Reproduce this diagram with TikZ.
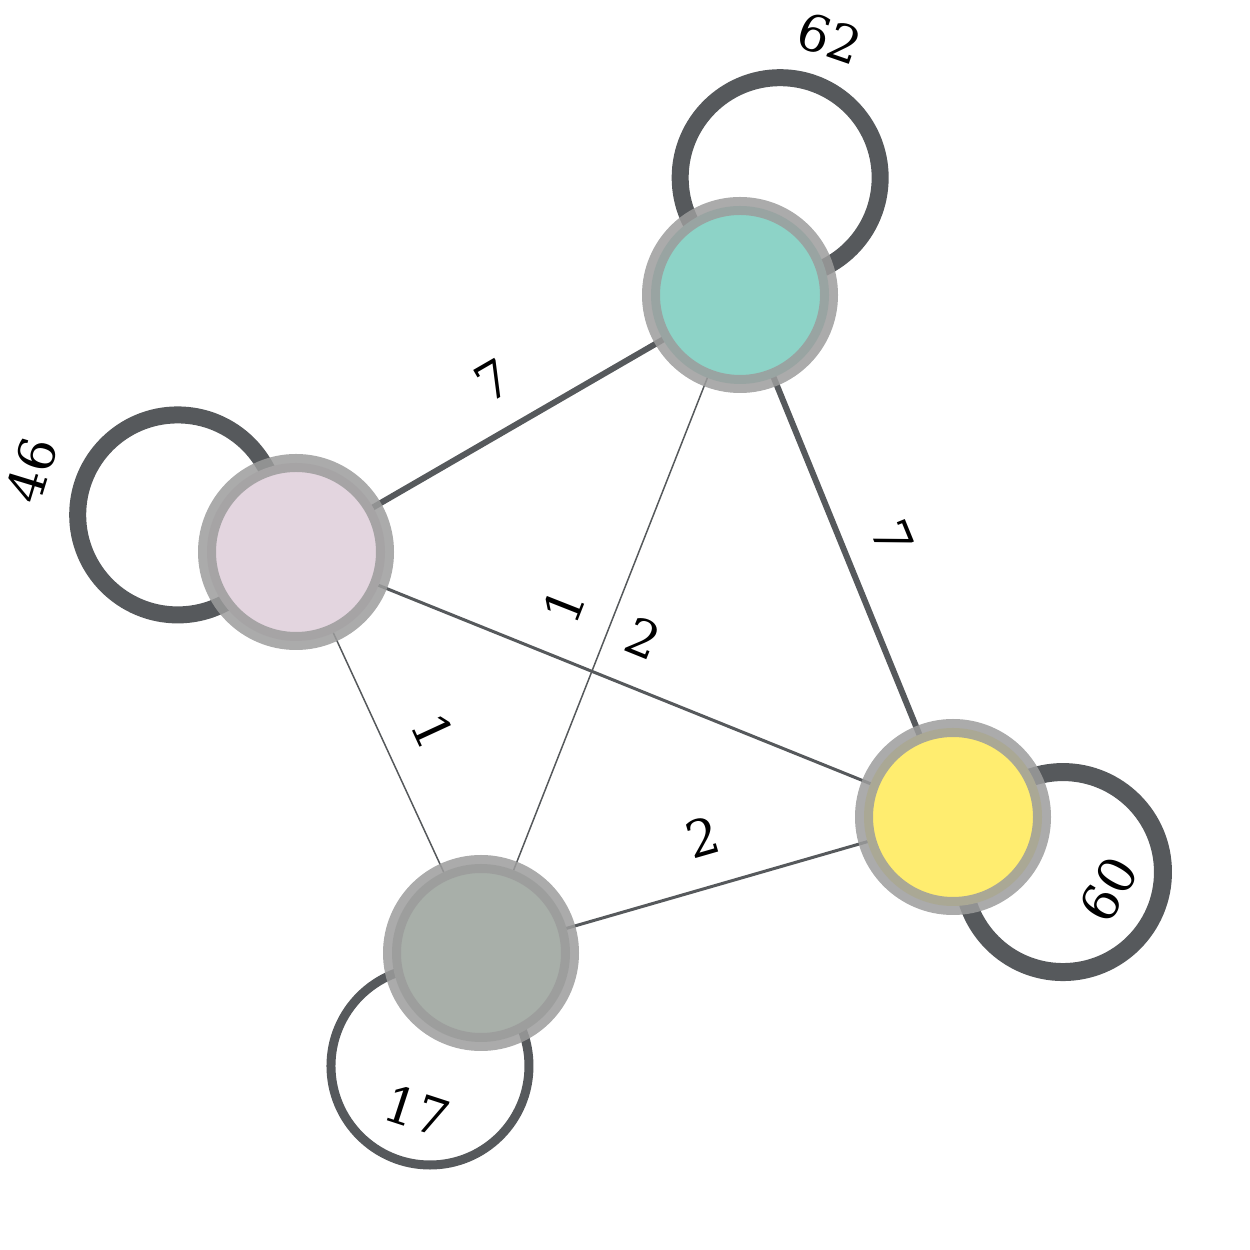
\documentclass[tikz,border=0pt]{standalone}
\usepackage{fontspec}
\setmainfont{DejaVu Serif}
\usetikzlibrary{backgrounds}
\definecolor{vtxteal}{HTML}{8DD3C7}
\definecolor{vtxpink}{HTML}{E3D5DF}
\definecolor{vtxyellow}{HTML}{FFED6F}
\definecolor{vtxgray}{HTML}{A8AFA9}
\definecolor{ringgray}{HTML}{9C9C9C}
\definecolor{linkgray}{HTML}{56595C}

\begin{document}
\begin{tikzpicture}[
  vertex/.style={circle,inner sep=0pt,minimum size=1.78cm,line width=0.18cm,draw=ringgray,draw opacity=0.85},
  link/.style={draw=linkgray},
  selfloop/.style={draw=linkgray},
  wlabel/.style={font=\fontsize{14.4}{17}\selectfont,inner sep=0.31cm,outer sep=0pt,sloped,above},
  looplabel/.style={font=\fontsize{14.4}{17}\selectfont,inner sep=0pt}]
  \useasboundingbox (0,0) rectangle (12.5,12.5);
  \node[vertex,fill=vtxteal] (t) at (7.40,9.55) {};
  \node[vertex,fill=vtxpink] (p) at (2.96,6.98) {};
  \node[vertex,fill=vtxyellow] (y) at (9.53,4.33) {};
  \node[vertex,fill=vtxgray] (g) at (4.81,2.97) {};
  \begin{scope}[on background layer]
    \draw[selfloop,line width=0.17cm] ([shift={(71.1:1.24)}]t.center) circle[radius=1];
    \draw[selfloop,line width=0.17cm] ([shift={(162.6:1.24)}]p.center) circle[radius=1];
    \draw[selfloop,line width=0.18cm] ([shift={(-26.6:1.23)}]y.center) circle[radius=1];
    \draw[selfloop,line width=0.09cm] ([shift={(-114.3:1.24)}]g.center) circle[radius=0.99];
    \draw[link,line width=0.06cm] (p.center) -- node[wlabel] (tpw) {7} (t.center);
    \draw[link,line width=0.06cm] (t.center) -- node[wlabel] (tyw) {7} (y.center);
    \draw[link,line width=0.03cm] (p.center) -- node[wlabel] (pyw) {2} (y.center);
    \draw[link,line width=0.03cm] (g.center) -- node[wlabel] (gyw) {2} (y.center);
    \draw[link,line width=0.015cm] (g.center) -- node[wlabel] (gtw) {1} (t.center);
    \draw[link,line width=0.015cm] (p.center) -- node[wlabel] (pgw) {1} (g.center);
  \end{scope}
  \node[looplabel,rotate=-19] (tloop) at ([shift={(70.7:2.72)}]t.center) {62};
  \node[looplabel,rotate=73] (ploop) at ([shift={(162.8:2.77)}]p.center) {46};
  \node[looplabel,rotate=60] (yloop) at ([shift={(-25:1.72)}]y.center) {60};
  \node[looplabel,rotate=-18] (gloop) at ([shift={(-112:1.70)}]g.center) {17};
\end{tikzpicture}
\end{document}
